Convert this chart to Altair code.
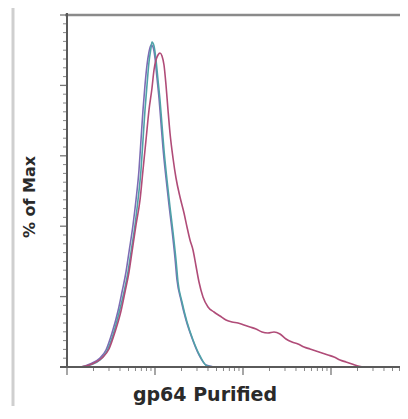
import math
import altair as alt
import pandas as pd

# ---- data (x in log decades from axis origin, y in % of max) ----
PXX = 88.0  # px per decade (used only to convert the values)

teal_px = [67, 80, 90, 100, 107, 113, 119, 124, 128, 131, 135, 138, 141, 143, 145, 147, 149, 151, 152,
           154, 156, 158, 160, 162, 164, 167, 170, 173, 176, 178, 182, 187, 193, 200, 207, 215]
teal_py = [367, 367, 365, 360, 351, 335, 313, 292, 272, 252, 225, 200, 170, 140, 110, 85, 62, 48, 42,
           46, 60, 80, 100, 125, 150, 180, 207, 232, 260, 282, 302, 322, 340, 356, 366, 367]

purple_px = [67, 80, 90, 100, 106, 112, 118, 122, 126, 129, 133, 136, 139, 141, 143, 145, 147, 149, 151,
             153, 155, 157, 159, 161, 163, 166, 169, 172, 175, 177, 181, 186, 192, 199, 206, 214]
purple_py = [367, 367, 364, 358, 350, 333, 311, 292, 272, 252, 225, 200, 170, 140, 110, 85, 65, 52, 45,
             47, 58, 78, 98, 123, 148, 178, 205, 230, 258, 280, 300, 320, 338, 355, 365, 367]

red_px = [67, 80, 92, 102, 109, 115, 121, 125, 129, 132, 136, 140, 143, 146, 149, 152, 154, 156, 158, 160,
          162, 164, 166, 168, 170, 173, 176, 180, 184, 187, 190, 193, 196, 199, 203, 208, 214, 220, 226,
          232, 238, 244, 250, 256, 262, 268, 274, 280, 286, 292, 298, 304, 310, 316, 322, 328, 334, 340,
          346, 352, 358, 365, 380, 408]
red_py = [367, 367, 364, 358, 349, 332, 311, 292, 272, 252, 225, 200, 170, 140, 110, 88, 70, 60, 55, 53,
          56, 65, 85, 110, 133, 158, 178, 197, 213, 227, 240, 250, 266, 282, 297, 307, 312, 316, 320,
          322, 323, 325, 327, 329, 332, 333, 332, 334, 339, 342, 344, 347, 349, 351, 353, 355, 357, 360,
          362, 364, 366, 367, 367, 367]

series_names = ["Isotype", "Unstained", "gp64"]
series_colors = ["#4fa2a8", "#7d6cb4", "#b04c78"]

def to_df(pxs, pys, name, order):
    return pd.DataFrame({
        "x": [(p - 67) / PXX for p in pxs],
        "y": [(367 - q) / 3.52 for q in pys],
        "s": name,
        "o": order,
        "i": list(range(len(pxs))),
    })

df = pd.concat([
    to_df(purple_px, purple_py, series_names[1], 0),
    to_df(teal_px, teal_py, series_names[0], 1),
    to_df(red_px, red_py, series_names[2], 2),
], ignore_index=True)

W, H = 333, 352
XMAX = W / PXX
x_major = [0, 1, 2, 3]
x_minor = [d + math.log10(k) for d in range(4) for k in range(2, 10) if d + math.log10(k) < XMAX]
y_major = [0, 20, 40, 60, 80, 100]
y_minor = [v * 2.5 for v in range(41) if (v * 2.5) % 20 != 0]

AX = "#5a5a5a"

xs = alt.Scale(domain=[0, XMAX], nice=False, zero=False)
ys = alt.Scale(domain=[0, 100], nice=False)

lines = alt.Chart(df).mark_line(strokeWidth=1.6, clip=True, interpolate="monotone").encode(
    x=alt.X("x:Q", scale=xs, axis=None),
    y=alt.Y("y:Q", scale=ys, axis=None),
    color=alt.Color("s:N", scale=alt.Scale(domain=series_names, range=series_colors), legend=None),
    order=alt.Order("i:Q"),
    detail="s:N",
)

xmaj = alt.Chart(pd.DataFrame({"v": x_major})).mark_rule(color="#777777", strokeWidth=1.3).encode(
    x=alt.X("v:Q", scale=xs, axis=None), y=alt.value(H), y2=alt.value(H + 8))
xmin = alt.Chart(pd.DataFrame({"v": x_minor})).mark_rule(color="#888888", strokeWidth=1).encode(
    x=alt.X("v:Q", scale=xs, axis=None), y=alt.value(H), y2=alt.value(H + 4))
ymaj = alt.Chart(pd.DataFrame({"v": y_major})).mark_rule(color="#777777", strokeWidth=1.3).encode(
    y=alt.Y("v:Q", scale=ys, axis=None), x=alt.value(-7), x2=alt.value(0))
ymin = alt.Chart(pd.DataFrame({"v": y_minor})).mark_rule(color="#888888", strokeWidth=1).encode(
    y=alt.Y("v:Q", scale=ys, axis=None), x=alt.value(-4), x2=alt.value(0))

base = alt.Chart(pd.DataFrame({"a": [0]}))
left_axis = base.mark_rule(color=AX, strokeWidth=2).encode(x=alt.value(0), y=alt.value(-2), y2=alt.value(H))
bottom_axis = base.mark_rule(color=AX, strokeWidth=2).encode(y=alt.value(H), x=alt.value(-7), x2=alt.value(W))
top_line = base.mark_rule(color="#8a8a8a", strokeWidth=2.5).encode(y=alt.value(0), x=alt.value(-2), x2=alt.value(W))
border = base.mark_rule(color="#cfcfcf", strokeWidth=3).encode(x=alt.value(-54), y=alt.value(-8), y2=alt.value(H + 60))

ytitle = base.mark_text(text="% of Max", font="DejaVu Sans", fontWeight="bold", fontSize=16,
                        angle=270, color="#2a2a2a", align="center", baseline="middle").encode(
    x=alt.value(-37), y=alt.value(182))
xtitle = base.mark_text(text="gp64 Purified", font="DejaVu Sans", fontWeight="bold", fontSize=19,
                        color="#2a2a2a", align="center", baseline="alphabetic").encode(
    x=alt.value(138), y=alt.value(386))

chart = alt.layer(border, top_line, xmin, xmaj, ymin, ymaj, lines, left_axis, bottom_axis, ytitle, xtitle).properties(
    width=W, height=H,
    autosize=alt.AutoSizeParams(type="none"),
    padding={"left": 59, "top": 7, "right": 0, "bottom": 39},
    background="white",
).configure_view(strokeWidth=0)

chart.save("out.html", embed_options={"renderer": "svg", "actions": False})
